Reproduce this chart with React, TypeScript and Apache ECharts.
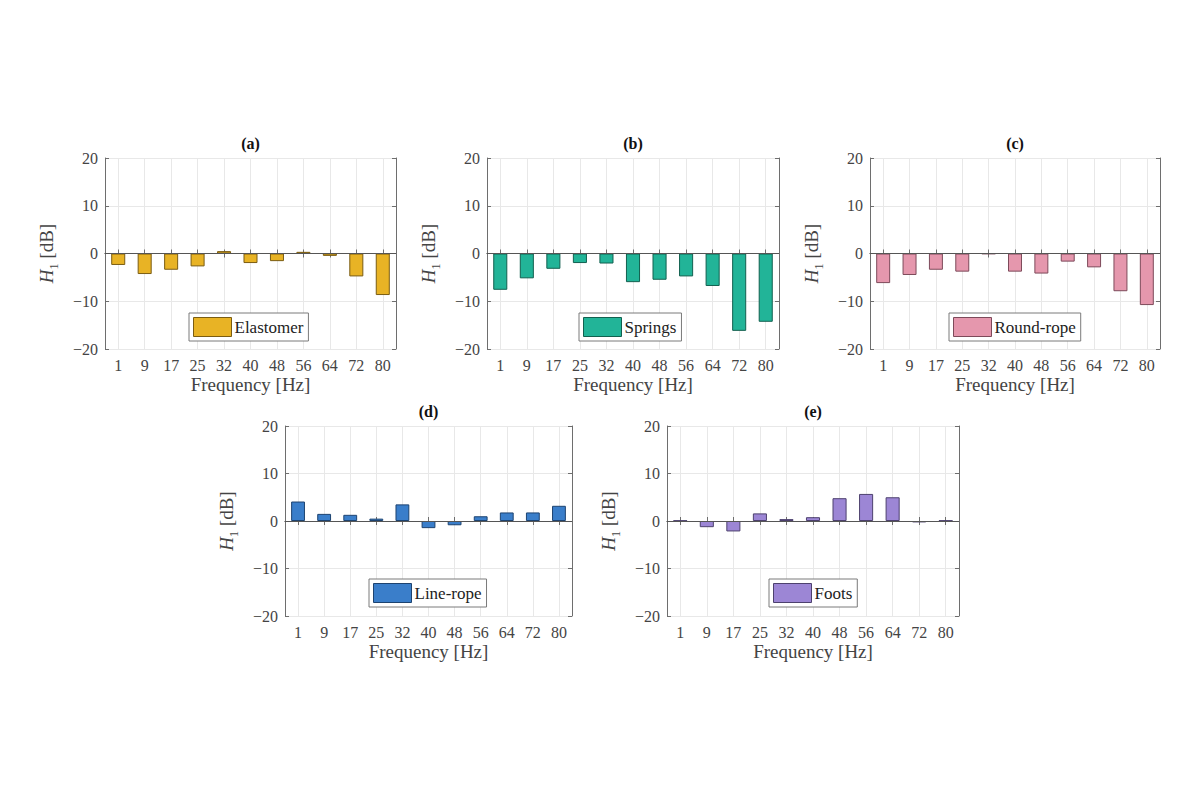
import React, { useEffect, useRef } from "react";
import * as echarts from "echarts";

const frequencies = ["1", "9", "17", "25", "32", "40", "48", "56", "64", "72", "80"];
const panelTitles = ["(a)", "(b)", "(c)", "(d)", "(e)"];
const seriesNames = ["Elastomer", "Springs", "Round-rope", "Line-rope", "Foots"];
const elastomer = [-2.4, -4.3, -3.4, -2.7, 0.5, -2.0, -1.6, 0.35, -0.5, -4.8, -8.7];
const springs = [-7.6, -5.2, -3.2, -2.0, -2.1, -6.0, -5.5, -4.8, -6.8, -16.2, -14.3];
const roundRope = [-6.2, -4.5, -3.4, -3.8, -0.1, -3.8, -4.2, -1.7, -2.9, -7.9, -10.8];
const lineRope = [4.1, 1.5, 1.3, 0.5, 3.5, -1.5, -0.9, 1.0, 1.8, 1.8, 3.2];
const foots = [0.1, -1.3, -2.2, 1.6, 0.4, 0.8, 4.8, 5.7, 5.0, -0.3, 0.1];
const yTicks = [-20, -10, 0, 10, 20];

const allValues = [elastomer, springs, roundRope, lineRope, foots];
const fills = ["#E8B325", "#22B498", "#E597AD", "#3A7ECA", "#9C86D5"];
const edges = ["#7a5c12", "#12604f", "#7d4a5a", "#1d4370", "#4d416e"];

// layout (px)
const grids = [
  { left: 105, top: 158, width: 291, height: 191 },
  { left: 487, top: 158, width: 292, height: 191 },
  { left: 870, top: 158, width: 290, height: 191 },
  { left: 285, top: 426, width: 287, height: 190 },
  { left: 667, top: 426, width: 292, height: 190 },
];
const legendPos = [
  { left: 189, top: 313 },
  { left: 579, top: 313 },
  { left: 949, top: 313 },
  { left: 369, top: 579 },
  { left: 769, top: 579 },
];

const FONT = "'Liberation Serif', 'DejaVu Serif', serif";
const BOX = "#6e6e6e";
const TXT = "#444444";

export default function App() {
  const ref = useRef<HTMLDivElement>(null);
  useEffect(() => {
    if (!ref.current) return;
    const chart = echarts.init(ref.current, null, { renderer: "svg" });
    const minMax = { min: yTicks[0], max: yTicks[yTicks.length - 1], interval: 10 };
    const xAxis: any[] = [];
    const yAxis: any[] = [];
    const series: any[] = [];
    const legend: any[] = [];
    const graphic: any[] = [];
    grids.forEach((g, i) => {
      xAxis.push({
        type: "category",
        gridIndex: i,
        data: frequencies,
        position: "bottom",
        boundaryGap: true,
        axisLine: { show: true, lineStyle: { color: BOX, width: 1 } },
        axisTick: { show: true, inside: true, alignWithLabel: true, length: 4, lineStyle: { color: BOX } },
        axisLabel: { color: TXT, fontFamily: FONT, fontSize: 16, margin: 8 },
        splitLine: { show: true, alignWithLabel: true, lineStyle: { color: "#e8e8e8", width: 1 } },
        name: "Frequency [Hz]",
        nameLocation: "middle",
        nameGap: 26,
        nameTextStyle: { color: TXT, fontFamily: FONT, fontSize: 19 },
      });
      xAxis.push({
        type: "category",
        gridIndex: i,
        data: frequencies,
        position: "top",
        boundaryGap: true,
        axisLine: { show: true, lineStyle: { color: BOX, width: 1 } },
        axisTick: { show: true, inside: true, alignWithLabel: true, length: 4, lineStyle: { color: BOX } },
        axisLabel: { show: false },
        splitLine: { show: false },
      });
      yAxis.push({
        type: "value",
        gridIndex: i,
        ...minMax,
        position: "left",
        axisLine: { show: true, onZero: false, lineStyle: { color: BOX, width: 1 } },
        axisTick: { show: true, inside: true, length: 4, lineStyle: { color: BOX } },
        axisLabel: {
          color: TXT,
          fontFamily: FONT,
          fontSize: 16,
          margin: 7,
          formatter: (v: number) => (v < 0 ? "\u2212" + Math.abs(v) : String(v)),
        },
        splitLine: { show: true, lineStyle: { color: "#e8e8e8", width: 1 } },
        name: "{i|H}{s|1}{n| [dB]}",
        nameLocation: "middle",
        nameGap: 45,
        nameTextStyle: {
          color: TXT,
          fontFamily: FONT,
          fontSize: 19,
          rich: {
            i: { fontStyle: "italic", fontFamily: FONT, fontSize: 19, color: TXT, lineHeight: 27 },
            s: { fontFamily: FONT, fontSize: 12, color: TXT, verticalAlign: "bottom" },
            n: { fontFamily: FONT, fontSize: 19, color: TXT, lineHeight: 27 },
          },
        },
      });
      yAxis.push({
        type: "value",
        gridIndex: i,
        ...minMax,
        position: "right",
        axisLine: { show: true, onZero: false, lineStyle: { color: BOX, width: 1 } },
        axisTick: { show: true, inside: true, length: 4, lineStyle: { color: BOX } },
        axisLabel: { show: false },
        splitLine: { show: false },
      });
      series.push({
        type: "bar",
        name: seriesNames[i],
        xAxisIndex: i * 2,
        yAxisIndex: i * 2,
        data: allValues[i],
        barWidth: "53%",
        itemStyle: { color: fills[i], borderColor: edges[i], borderWidth: 1 },
        markLine: {
          silent: true,
          symbol: "none",
          label: { show: false },
          lineStyle: { color: "#555", width: 1, type: "solid" },
          data: [{ yAxis: 0 }],
        },
      });
      legend.push({
        data: [seriesNames[i]],
        left: legendPos[i].left,
        top: legendPos[i].top,
        orient: "horizontal",
        backgroundColor: "#ffffff",
        borderColor: "#7a7a7a",
        borderWidth: 1,
        borderRadius: 0,
        padding: [4, 5, 4, 4],
        itemWidth: 38,
        itemHeight: 19,
        icon: "rect",
        selectedMode: false,
        itemStyle: { borderColor: edges[i], borderWidth: 1 },
        textStyle: { color: "#222", fontFamily: FONT, fontSize: 17, padding: [0, 0, 0, -2] },
      });
      graphic.push({
        type: "text",
        x: g.left + g.width / 2,
        y: g.top - 15,
        style: {
          text: panelTitles[i],
          fill: "#111",
          font: `bold 16px ${FONT}`,
          textAlign: "center",
          textVerticalAlign: "middle",
        },
      });
    });
    chart.setOption({
      animation: false,
      backgroundColor: "#ffffff",
      grid: grids.map((g) => ({ ...g, show: false, containLabel: false })),
      xAxis,
      yAxis,
      series,
      legend,
      graphic,
    });
    return () => chart.dispose();
  }, []);
  return (
    <div
      ref={ref}
      style={{ position: "fixed", left: 0, top: 0, width: 1200, height: 800, background: "#fff" }}
    />
  );
}
